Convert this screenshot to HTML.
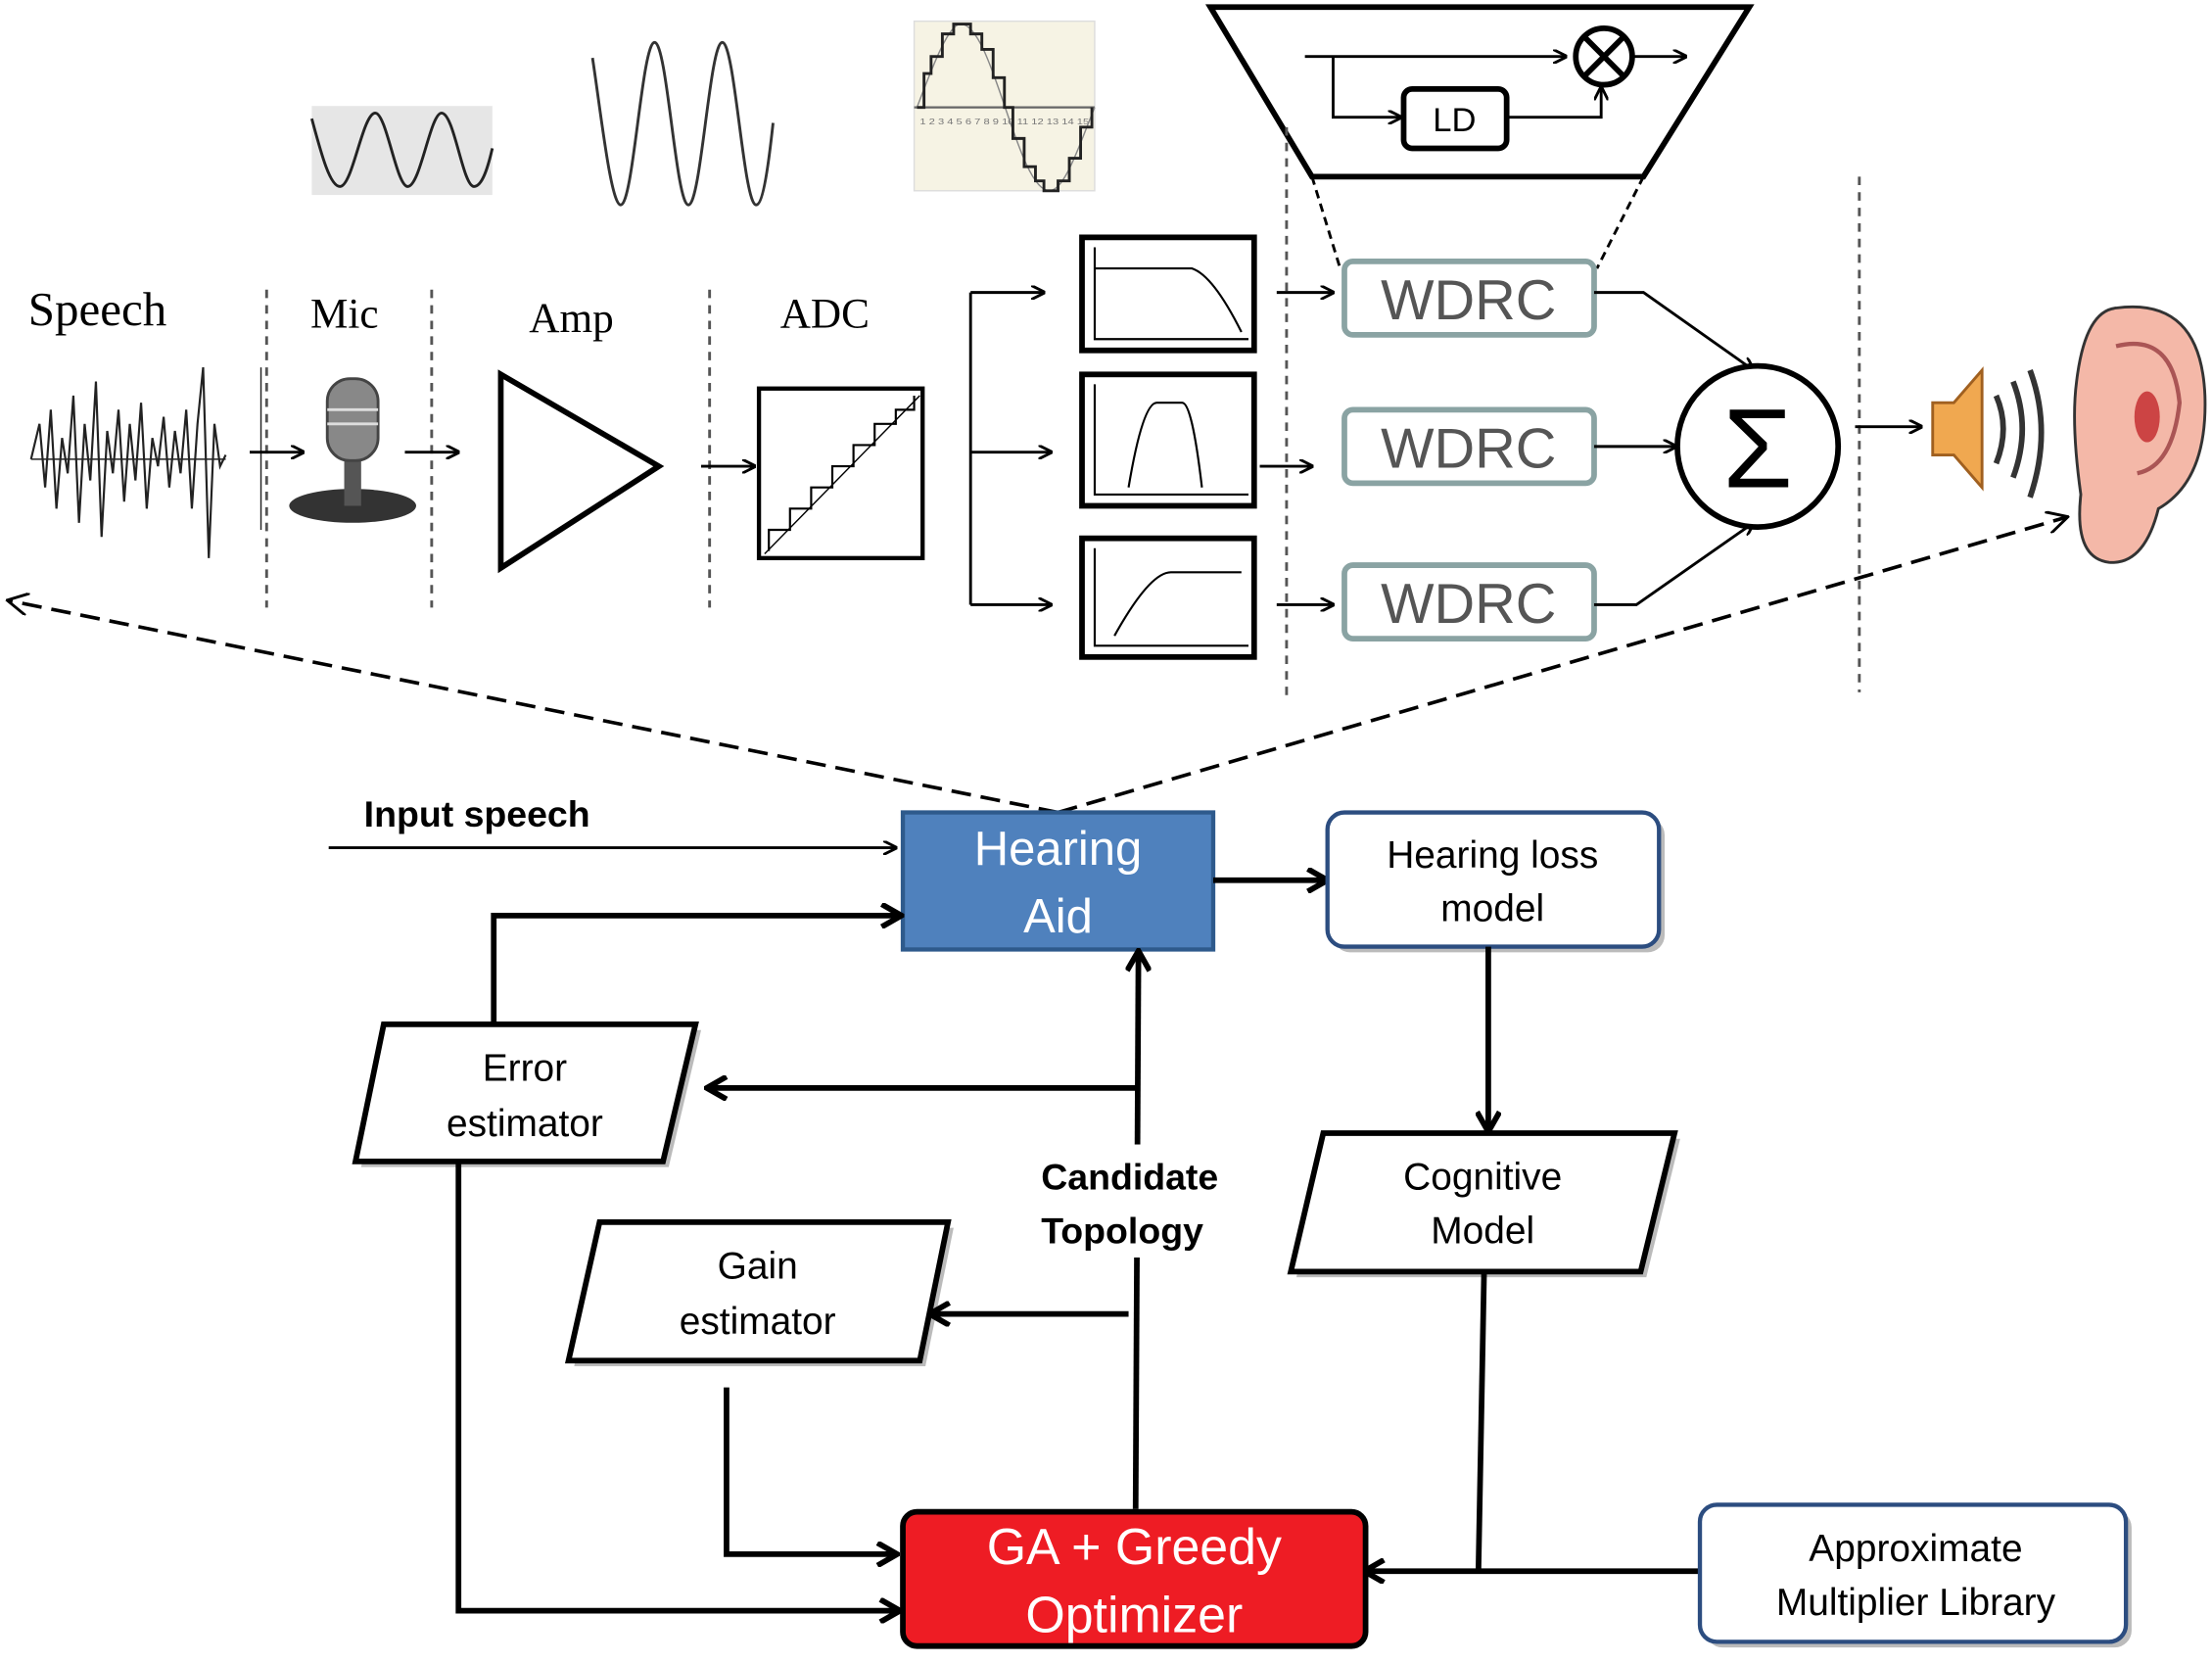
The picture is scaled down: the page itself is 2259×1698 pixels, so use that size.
<!DOCTYPE html>
<html><head><meta charset="utf-8"><style>
html,body{margin:0;padding:0;background:#fff;}
svg{display:block}
text{font-family:"Liberation Sans",sans-serif}
.serif{font-family:"Liberation Serif",serif}
</style></head><body>
<svg width="2259" height="1698" viewBox="0 0 1568 1177" preserveAspectRatio="none" xmlns="http://www.w3.org/2000/svg">
<defs>
<marker id="a" markerWidth="10" markerHeight="10" refX="9" refY="5" orient="auto" markerUnits="userSpaceOnUse"><path d="M0,0 L10,5 L0,10" fill="none" stroke="#000" stroke-width="2"/></marker>
<marker id="b" markerWidth="18" markerHeight="18" refX="15" refY="9" orient="auto" markerUnits="userSpaceOnUse"><path d="M2,1 L16,9 L2,17" fill="none" stroke="#000" stroke-width="4"/></marker>
<marker id="c" markerWidth="16" markerHeight="16" refX="14" refY="8" orient="auto" markerUnits="userSpaceOnUse"><path d="M0,0 L15,8 L0,16" fill="none" stroke="#000" stroke-width="2"/></marker>
</defs>
<!-- trapezoid -->
<polygon points="858,5 1240,5 1165,125 930,125" fill="#fff" stroke="#000" stroke-width="4"/>
<line x1="925" y1="40" x2="1110" y2="40" stroke="#000" stroke-width="2" marker-end="url(#a)"/>
<circle cx="1137" cy="40" r="20" fill="#fff" stroke="#000" stroke-width="4"/>
<line x1="1123" y1="26" x2="1151" y2="54" stroke="#000" stroke-width="4"/><line x1="1151" y1="26" x2="1123" y2="54" stroke="#000" stroke-width="4"/>
<line x1="1157" y1="40" x2="1195" y2="40" stroke="#000" stroke-width="2" marker-end="url(#a)"/>
<polyline points="945,40 945,83 993,83" fill="none" stroke="#000" stroke-width="2" marker-end="url(#a)"/>
<rect x="995" y="63" width="73" height="42" rx="6" fill="#fff" stroke="#000" stroke-width="4"/>
<text x="1031" y="93" font-size="24" text-anchor="middle">LD</text>
<polyline points="1068,83 1135,83 1135,62" fill="none" stroke="#000" stroke-width="2" marker-end="url(#a)"/>
<line x1="930" y1="125" x2="950" y2="190" stroke="#000" stroke-width="2" stroke-dasharray="6,4"/>
<line x1="1165" y1="125" x2="1132" y2="190" stroke="#000" stroke-width="2" stroke-dasharray="6,4"/>
<!-- small images -->
<rect x="221" y="75" width="128" height="63" fill="#e6e6e6"/>
<path d="M221,84 C228,110 234,132 241,132 C250,132 257,80 266,80 C274,80 281,132 289,132 C298,132 305,80 313,80 C322,80 328,132 336,132 C342,132 346,118 349,105" fill="none" stroke="#222" stroke-width="2"/>
<path d="M420,41 C426,80 433,145 440,145 C449,145 455,30 464,30 C473,30 479,145 488,145 C497,145 503,30 512,30 C521,30 527,145 536,145 C541,145 545,115 548,87" fill="none" stroke="#333" stroke-width="2"/>
<rect x="648" y="15" width="128" height="120" fill="#f6f3e4" stroke="#ddd"/>
<line x1="648" y1="76" x2="776" y2="76" stroke="#666" stroke-width="1.5"/>
<text x="652" y="88" font-size="6" fill="#777" textLength="120" lengthAdjust="spacingAndGlyphs">1 2 3 4 5 6 7 8 9 10 11 12 13 14 15</text>
<path d="M650,76 C660,50 672,17 681,17 C704,17 721,135 744,135 C755,135 766,100 776,76" fill="none" stroke="#888" stroke-width="1"/>
<path d="M650,76 L655,76 L655,52 L660,52 L660,40 L668,40 L668,24 L676,24 L676,17 L688,17 L688,24 L696,24 L696,35 L704,35 L704,55 L712,55 L712,76 L718,76 L718,98 L726,98 L726,118 L734,118 L734,128 L740,128 L740,135 L750,135 L750,128 L758,128 L758,112 L766,112 L766,90 L774,90 L774,76" fill="none" stroke="#222" stroke-width="2"/>
<!-- labels -->
<text class="serif" x="20" y="230" font-size="34">Speech</text>
<text class="serif" x="220" y="232" font-size="30">Mic</text>
<text class="serif" x="375" y="235" font-size="30">Amp</text>
<text class="serif" x="553" y="232" font-size="30">ADC</text>
<g stroke="#555" stroke-width="2" stroke-dasharray="6,5">
<line x1="189" y1="205" x2="189" y2="430"/><line x1="306" y1="205" x2="306" y2="430"/><line x1="503" y1="205" x2="503" y2="430"/>
<line x1="912" y1="90" x2="912" y2="495"/><line x1="1318" y1="125" x2="1318" y2="490"/></g>
<!-- speech waveform -->
<path d="M22,325 L28,300 L32,345 L36,290 L40,360 L44,310 L48,335 L52,280 L56,370 L60,300 L64,340 L68,270 L72,380 L76,305 L80,335 L84,290 L88,355 L92,300 L96,340 L100,285 L104,360 L108,310 L112,330 L116,295 L120,345 L124,305 L128,335 L132,290 L136,360 L140,300 L144,260 L148,395 L152,300 L156,330 L160,322" fill="none" stroke="#222" stroke-width="1.5"/>
<line x1="22" y1="325" x2="160" y2="325" stroke="#222"/>
<line x1="185" y1="260" x2="185" y2="375" stroke="#222"/>
<!-- arrows -->
<line x1="177" y1="320" x2="215" y2="320" stroke="#000" stroke-width="2" marker-end="url(#a)"/>
<line x1="287" y1="320" x2="325" y2="320" stroke="#000" stroke-width="2" marker-end="url(#a)"/>
<line x1="497" y1="330" x2="535" y2="330" stroke="#000" stroke-width="2" marker-end="url(#a)"/>
<!-- mic -->
<ellipse cx="250" cy="358" rx="45" ry="12" fill="#333"/>
<rect x="244" y="320" width="12" height="38" fill="#555"/>
<rect x="232" y="268" width="36" height="58" rx="16" fill="#888" stroke="#444" stroke-width="2"/>
<line x1="232" y1="290" x2="268" y2="290" stroke="#ddd" stroke-width="2"/><line x1="232" y1="300" x2="268" y2="300" stroke="#ddd" stroke-width="2"/>
<!-- amp -->
<polygon points="355,265 355,402 467,330" fill="#fff" stroke="#000" stroke-width="4"/>
<!-- ADC -->
<rect x="538" y="275" width="116" height="120" fill="#fff" stroke="#000" stroke-width="3"/>
<path d="M545,390 L545,375 L560,375 L560,360 L575,360 L575,345 L590,345 L590,330 L605,330 L605,315 L620,315 L620,300 L635,300 L635,290 L648,290 L648,280" fill="none" stroke="#000" stroke-width="1.5"/>
<line x1="542" y1="392" x2="652" y2="280" stroke="#000" stroke-width="1"/>
<!-- splitter -->
<line x1="688" y1="207" x2="688" y2="428" stroke="#000" stroke-width="2"/>
<line x1="688" y1="207" x2="740" y2="207" stroke="#000" stroke-width="2" marker-end="url(#a)"/>
<line x1="688" y1="320" x2="745" y2="320" stroke="#000" stroke-width="2" marker-end="url(#a)"/>
<line x1="688" y1="428" x2="745" y2="428" stroke="#000" stroke-width="2" marker-end="url(#a)"/>
<!-- filters -->
<g fill="#fff" stroke="#000" stroke-width="4">
<rect x="767" y="168" width="122" height="80"/><rect x="767" y="265" width="122" height="93"/><rect x="767" y="381" width="122" height="84"/></g>
<g fill="none" stroke="#000" stroke-width="1.5">
<path d="M776,175 L776,240 L885,240"/><path d="M776,190 L845,190 Q860,195 880,235"/>
<path d="M776,272 L776,350 L885,350"/><path d="M800,345 Q810,285 820,285 L838,285 Q845,285 852,345"/>
<path d="M776,388 L776,457 L885,457"/><path d="M790,450 Q815,405 830,405 L880,405"/></g>
<line x1="905" y1="207" x2="945" y2="207" stroke="#000" stroke-width="2" marker-end="url(#a)"/>
<line x1="893" y1="330" x2="930" y2="330" stroke="#000" stroke-width="2" marker-end="url(#a)"/>
<line x1="905" y1="428" x2="945" y2="428" stroke="#000" stroke-width="2" marker-end="url(#a)"/>
<!-- WDRC -->
<g fill="#fff" stroke="#8aa3a3" stroke-width="4">
<rect x="953" y="185" width="177" height="52" rx="6"/><rect x="953" y="290" width="177" height="52" rx="6"/><rect x="953" y="400" width="177" height="52" rx="6"/></g>
<g font-size="40" fill="#555" text-anchor="middle">
<text x="1041" y="226">WDRC</text><text x="1041" y="331">WDRC</text><text x="1041" y="441">WDRC</text></g>
<polyline points="1130,207 1165,207 1243,262" fill="none" stroke="#000" stroke-width="2" marker-end="url(#a)"/>
<line x1="1130" y1="316" x2="1188" y2="316" stroke="#000" stroke-width="2" marker-end="url(#a)"/>
<polyline points="1130,428 1160,428 1243,370" fill="none" stroke="#000" stroke-width="2" marker-end="url(#a)"/>
<circle cx="1246" cy="316" r="57" fill="#fff" stroke="#000" stroke-width="4"/>
<text x="1246" y="345" font-size="80" text-anchor="middle">Σ</text>
<line x1="1315" y1="302" x2="1362" y2="302" stroke="#000" stroke-width="2" marker-end="url(#a)"/>
<!-- speaker -->
<polygon points="1370,285 1385,285 1405,262 1405,345 1385,322 1370,322" fill="#f0a850" stroke="#a06020" stroke-width="2"/>
<g fill="none" stroke="#333" stroke-width="4"><path d="M1415,280 Q1425,303 1415,328"/><path d="M1427,270 Q1440,303 1427,338"/><path d="M1439,262 Q1455,305 1439,352"/></g>
<!-- ear -->
<path d="M1500,218 Q1560,210 1563,280 Q1565,340 1530,360 Q1520,400 1495,398 Q1470,395 1475,350 Q1468,300 1472,270 Q1478,220 1500,218 Z" fill="#f4b8a8" stroke="#333" stroke-width="2"/>
<path d="M1500,245 Q1540,235 1545,285 Q1540,330 1515,335" fill="none" stroke="#a55" stroke-width="3"/>
<ellipse cx="1522" cy="295" rx="9" ry="18" fill="#c44"/>
<!-- dashed arrows -->
<line x1="750" y1="575" x2="6" y2="425" stroke="#000" stroke-width="2.5" stroke-dasharray="14,7" marker-end="url(#c)"/>
<line x1="750" y1="575" x2="1465" y2="366" stroke="#000" stroke-width="2.5" stroke-dasharray="14,7" marker-end="url(#c)"/>
<!-- bottom -->
<text x="258" y="585" font-size="26" font-weight="bold">Input speech</text>
<line x1="233" y1="600" x2="635" y2="600" stroke="#000" stroke-width="2" marker-end="url(#a)"/>
<rect x="640" y="575" width="220" height="97" fill="#4f81bd" stroke="#2e5a8c" stroke-width="3"/>
<text x="750" y="612" font-size="34" fill="#fff" text-anchor="middle">Hearing</text>
<text x="750" y="660" font-size="34" fill="#fff" text-anchor="middle">Aid</text>
<line x1="860" y1="623" x2="940" y2="623" stroke="#000" stroke-width="4" marker-end="url(#b)"/>
<rect x="945" y="579" width="235" height="95" rx="12" fill="#bbb"/>
<rect x="941" y="575" width="235" height="95" rx="12" fill="#fff" stroke="#2c4d80" stroke-width="3"/>
<text x="1058" y="614" font-size="27" text-anchor="middle">Hearing loss</text>
<text x="1058" y="652" font-size="27" text-anchor="middle">model</text>
<line x1="1055" y1="670" x2="1055" y2="800" stroke="#000" stroke-width="4" marker-end="url(#b)"/>
<polygon points="942,806 1191,806 1167,904 919,904" fill="#bbb"/>
<polygon points="938,802 1187,802 1163,900 915,900" fill="#fff" stroke="#000" stroke-width="4"/>
<text x="1051" y="842" font-size="27" text-anchor="middle">Cognitive</text>
<text x="1051" y="880" font-size="27" text-anchor="middle">Model</text>
<line x1="1052" y1="900" x2="1048" y2="1112" stroke="#000" stroke-width="4"/>
<line x1="1205" y1="1112" x2="968" y2="1112" stroke="#000" stroke-width="4" marker-end="url(#b)"/>
<rect x="1209" y="1069" width="302" height="97" rx="12" fill="#bbb"/>
<rect x="1205" y="1065" width="302" height="97" rx="12" fill="#fff" stroke="#2c4d80" stroke-width="3"/>
<text x="1358" y="1105" font-size="27" text-anchor="middle">Approximate</text>
<text x="1358" y="1143" font-size="27" text-anchor="middle">Multiplier Library</text>
<rect x="640" y="1070" width="328" height="95" rx="10" fill="#ee1c24" stroke="#000" stroke-width="4"/>
<text x="804" y="1107" font-size="36" fill="#fff" text-anchor="middle">GA + Greedy</text>
<text x="804" y="1155" font-size="36" fill="#fff" text-anchor="middle">Optimizer</text>
<!-- error estimator -->
<polygon points="276,729 497,729 474,826 256,826" fill="#bbb"/>
<polygon points="272,725 493,725 470,822 252,822" fill="#fff" stroke="#000" stroke-width="4"/>
<text x="372" y="765" font-size="27" text-anchor="middle">Error</text>
<text x="372" y="804" font-size="27" text-anchor="middle">estimator</text>
<polyline points="350,725 350,648 638,648" fill="none" stroke="#000" stroke-width="4" marker-end="url(#b)"/>
<polyline points="325,822 325,1140 637,1140" fill="none" stroke="#000" stroke-width="4" marker-end="url(#b)"/>
<line x1="805" y1="1068" x2="807" y2="674" stroke="#000" stroke-width="4" marker-end="url(#b)"/>
<line x1="807" y1="770" x2="502" y2="770" stroke="#000" stroke-width="4" marker-end="url(#b)"/>
<rect x="735" y="810" width="140" height="80" fill="#fff"/>
<text x="738" y="842" font-size="26" font-weight="bold">Candidate</text>
<text x="738" y="880" font-size="26" font-weight="bold">Topology</text>
<polygon points="429,869 676,869 656,967 407,967" fill="#bbb"/>
<polygon points="425,865 672,865 652,963 403,963" fill="#fff" stroke="#000" stroke-width="4"/>
<text x="537" y="905" font-size="27" text-anchor="middle">Gain</text>
<text x="537" y="944" font-size="27" text-anchor="middle">estimator</text>
<line x1="800" y1="930" x2="660" y2="930" stroke="#000" stroke-width="4" marker-end="url(#b)"/>
<polyline points="515,982 515,1100 635,1100" fill="none" stroke="#000" stroke-width="4" marker-end="url(#b)"/>
</svg>
</body></html>
